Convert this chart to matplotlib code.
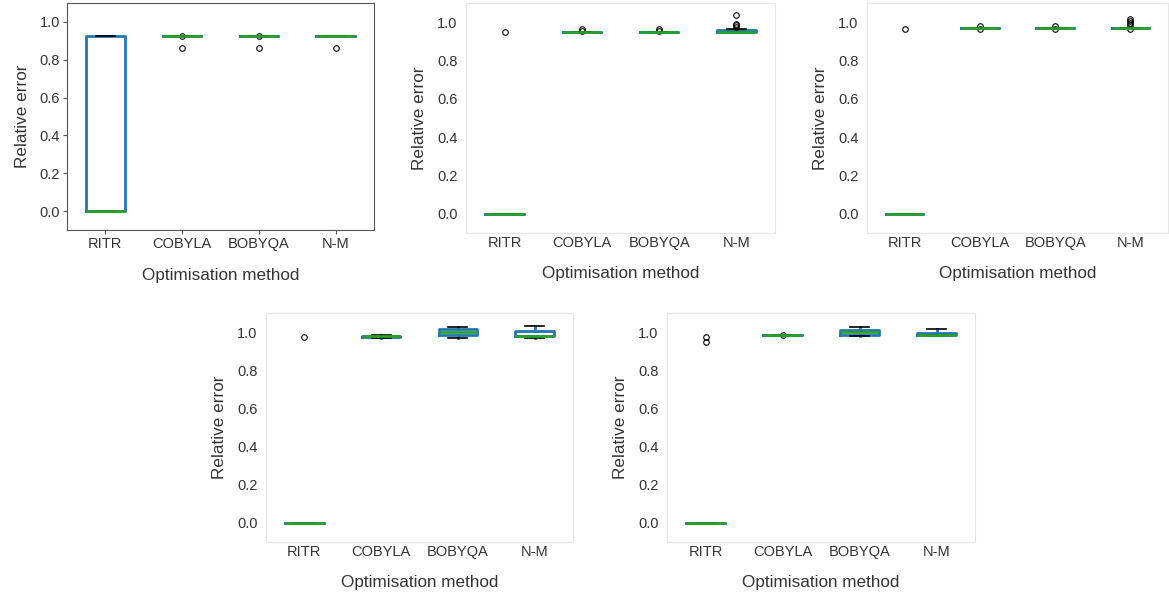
import matplotlib

matplotlib.use("Agg")
import matplotlib.pyplot as plt  # noqa: E402

plt.rcParams["font.family"] = ["Liberation Sans", "DejaVu Sans"]

METHODS = ["RITR", "COBYLA", "BOBYQA", "N-M"]

# per panel, per method: (whislo, q1, med, q3, whishi)
STATS_1 = [(0.0, 0.0, 0.0, 0.925, 0.925), (0.925, 0.925, 0.925, 0.925, 0.925),
           (0.925, 0.925, 0.925, 0.925, 0.925), (0.925, 0.925, 0.925, 0.925, 0.925)]
FLIERS_1 = [[], [0.925, 0.86], [0.925, 0.86], [0.86]]

STATS_2 = [(0.0, 0.0, 0.0, 0.0, 0.0), (0.95, 0.95, 0.95, 0.95, 0.95),
           (0.95, 0.95, 0.95, 0.95, 0.95), (0.95, 0.95, 0.95, 0.96, 0.965)]
FLIERS_2 = [[0.95], [0.955, 0.962], [0.955, 0.962], [0.975, 0.985, 0.99, 1.035]]

STATS_3 = [(0.0, 0.0, 0.0, 0.0, 0.0), (0.972, 0.972, 0.972, 0.972, 0.972),
           (0.972, 0.972, 0.972, 0.972, 0.972), (0.972, 0.972, 0.972, 0.972, 0.972)]
FLIERS_3 = [[0.965], [0.965, 0.978], [0.965, 0.978],
            [0.965, 0.985, 0.995, 1.005, 1.015]]

STATS_4 = [(0.0, 0.0, 0.0, 0.0, 0.0), (0.97, 0.975, 0.977, 0.98, 0.985),
           (0.97, 0.985, 1.0, 1.015, 1.025), (0.97, 0.98, 0.982, 1.005, 1.03)]
FLIERS_4 = [[0.975], [], [], []]

STATS_5 = [(0.0, 0.0, 0.0, 0.0, 0.0), (0.985, 0.985, 0.985, 0.985, 0.985),
           (0.98, 0.985, 1.0, 1.01, 1.025), (0.985, 0.985, 0.987, 0.997, 1.015)]
FLIERS_5 = [[0.95, 0.975], [0.985], [], []]

PANELS = [(STATS_1, FLIERS_1), (STATS_2, FLIERS_2), (STATS_3, FLIERS_3),
          (STATS_4, FLIERS_4), (STATS_5, FLIERS_5)]

# axes rectangles in pixels: left, top, right, bottom
W, H = 1169, 596
RECTS = [(67, 3, 374, 230), (466, 3, 775, 233), (867, 3, 1168, 233),
         (266, 313, 573, 542), (667, 313, 975, 542)]

BLUE = "#1f77b4"
GREEN = "#2ca02c"
TEXT = "#333333"

fig = plt.figure(figsize=(W / 100, H / 100), dpi=100)

for i, ((stats, fliers), (l, t, r, b)) in enumerate(zip(PANELS, RECTS)):
    ax = fig.add_axes([l / W, 1 - b / H, (r - l) / W, (b - t) / H])
    bxp = []
    for (lo, q1, med, q3, hi), fl in zip(stats, fliers):
        bxp.append(dict(whislo=lo, q1=q1, med=med, q3=q3, whishi=hi, fliers=fl))
    ax.bxp(bxp, positions=range(1, 5), widths=0.5,
           boxprops=dict(color=BLUE, linewidth=2),
           whiskerprops=dict(color=BLUE, linewidth=2),
           capprops=dict(color="k", linewidth=1.2),
           medianprops=dict(color=GREEN, linewidth=2),
           flierprops=dict(marker="o", markersize=4, markerfacecolor="none",
                           markeredgecolor="k", markeredgewidth=0.8))
    ax.set_xlim(0.5, 4.5)
    ax.set_ylim(-0.1, 1.1)
    ax.set_yticks([0.0, 0.2, 0.4, 0.6, 0.8, 1.0])
    ax.set_xticks(range(1, 5))
    ax.set_xticklabels(METHODS)
    ax.set_xlabel("Optimisation method", fontsize=12.3, color=TEXT, labelpad=12)
    ax.set_ylabel("Relative error", fontsize=12.3, color=TEXT, labelpad=7)
    ax.tick_params(labelsize=10.5, labelcolor=TEXT)
    if i == 0:
        for s in ax.spines.values():
            s.set_color("#555555")
        ax.tick_params(length=3, color="#555555", pad=2)
    else:
        for s in ax.spines.values():
            s.set_color("#e6e6e6")
        ax.tick_params(axis="x", length=0, pad=2)
        ax.tick_params(axis="y", length=0, pad=6)

fig.savefig("out.png", dpi=100)
